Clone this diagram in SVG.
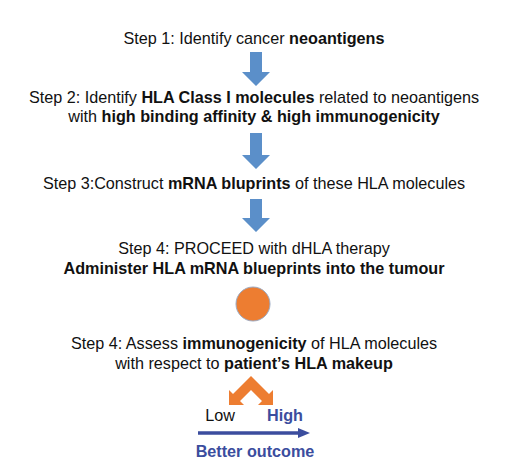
<svg xmlns="http://www.w3.org/2000/svg" width="511" height="472" viewBox="0 0 511 472">
<style>
text{font-family:"Liberation Sans",Arial,Helvetica,sans-serif;font-size:16.2px;fill:#111;text-anchor:middle}
.b{font-weight:bold}
.blue{fill:#3B4D9E}
.arr{fill:#5B8FC9}
.or{fill:#ED7D31}
</style>
<rect width="511" height="472" fill="#fff"/>
<g id="step1"><text x="254" y="44">Step 1: Identify cancer <tspan class="b">neoantigens</tspan></text></g>
<g id="step2"><text x="254" y="103">Step 2: Identify <tspan class="b">HLA Class I molecules</tspan> related to neoantigens</text>
<text x="254" y="122">with <tspan class="b">high binding affinity &amp; high immunogenicity</tspan></text></g>
<g id="step3"><text x="254" y="189">Step 3:Construct <tspan class="b">mRNA bluprints</tspan> of these HLA molecules</text></g>
<g id="step4"><text x="254" y="254">Step 4: PROCEED with dHLA therapy</text>
<text x="254" y="274" class="b">Administer HLA mRNA blueprints into the tumour</text></g>
<g id="circle"><circle cx="253" cy="304" r="17" class="or" stroke="#9AAAC4" stroke-width="1"/></g>
<g id="step5"><text x="254" y="349">Step 4: Assess <tspan class="b">immunogenicity</tspan> of HLA molecules</text>
<text x="254" y="369">with respect to <tspan class="b">patient’s HLA makeup</tspan></text></g>
<g id="split"><polygon class="or" points="251,376 269,394 273,390 273,405 258,405 262,401 251,390 240,401 244,405 229,405 229,390 233,394"/></g>
<g id="labels"><text x="220" y="421">Low</text>
<text x="285" y="421" class="b blue">High</text></g>
<g id="outcome"><text x="255" y="457" class="b blue">Better outcome</text></g>
<g id="connectors">
<polygon class="arr" points="250,52 262,52 262,72 270,72 256,86 242,72 250,72"/>
<polygon class="arr" points="250,133 262,133 262,155 270,155 256,169 242,155 250,155"/>
<polygon class="arr" points="250,199 262,199 262,218 270,218 256,232 242,218 250,218"/>
<line x1="198" y1="433" x2="300" y2="433" stroke="#3B4D9E" stroke-width="3.5"/>
<polygon points="298,428 310,433 298,438" fill="#3B4D9E"/>
</g>
</svg>
